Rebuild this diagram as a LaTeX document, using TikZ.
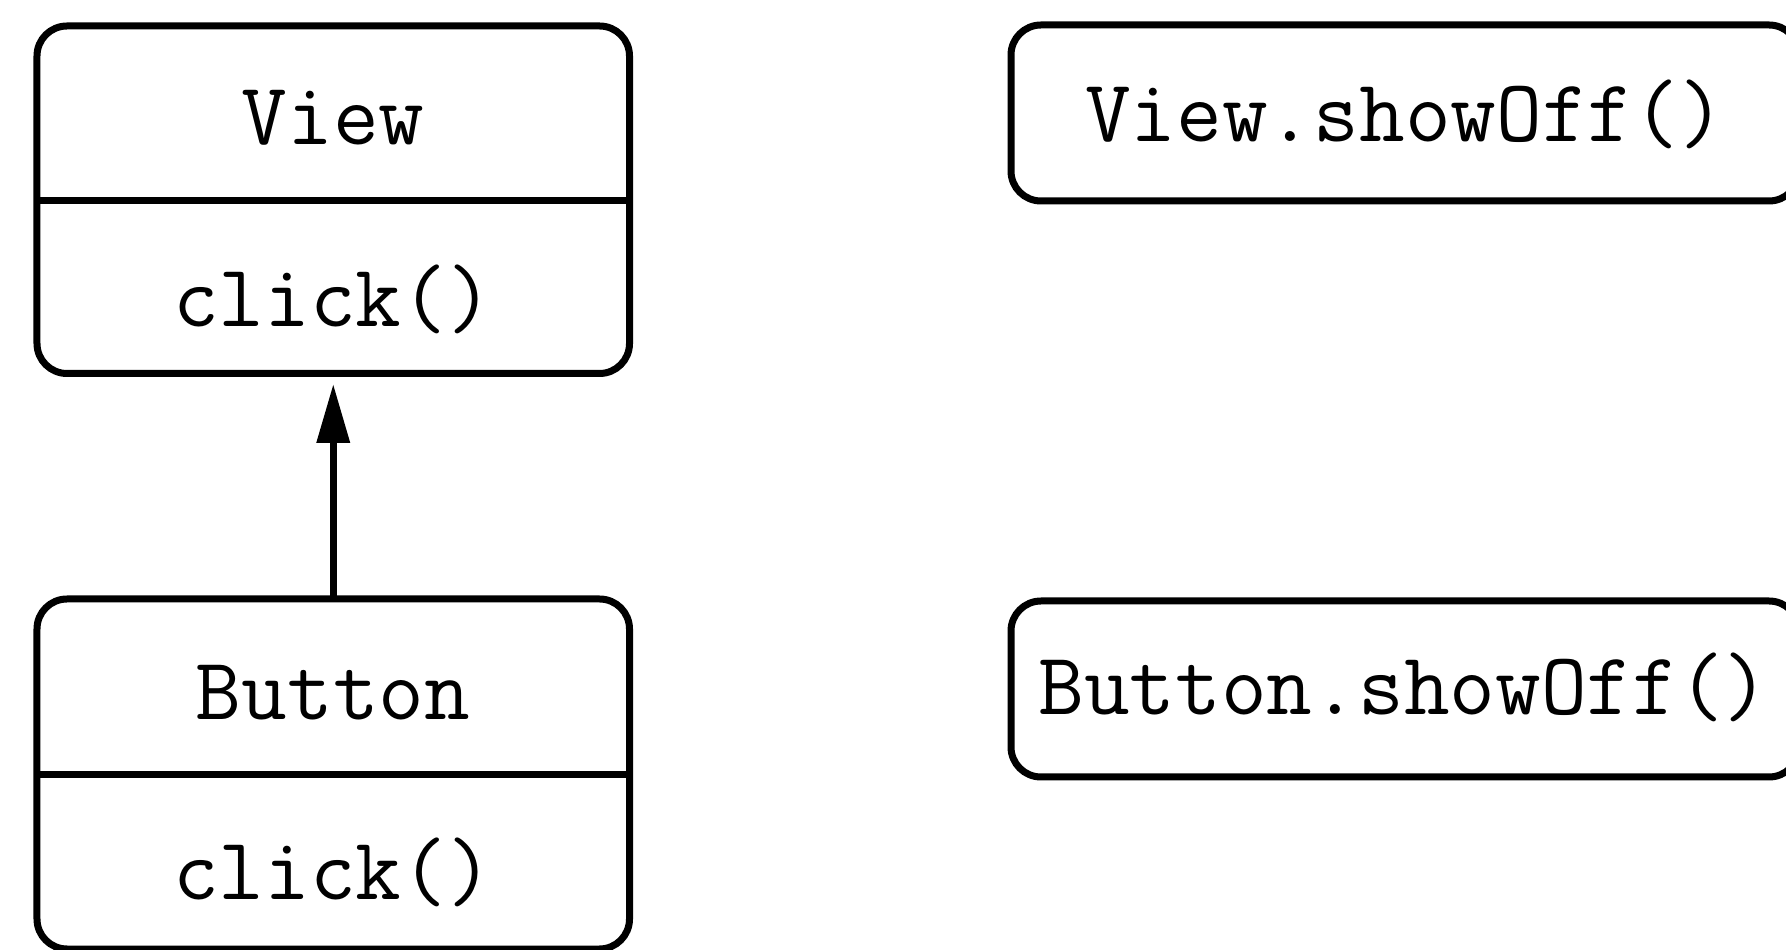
\documentclass[tikz,border=0pt]{standalone}
\usetikzlibrary{arrows.meta}
\begin{document}
\begin{tikzpicture}[x=0.4pt,y=-0.4pt,
  box/.style={draw, line width=2.8pt, rounded corners=12pt, inner sep=0pt, outer sep=0pt},
  divline/.style={line width=2.8pt},
  lbl/.style={font=\ttfamily\fontsize{35.5}{42}\selectfont, inner sep=0pt, anchor=base},
  inherit/.style={line width=2.8pt, -{Triangle[length=23.6pt,width=12.8pt]}, shorten >=4.2pt}]
\useasboundingbox (0,0) rectangle (1786,950);
\clip (0,0) rectangle (1786,950);
% class boxes
\node[box, minimum width=237pt, minimum height=139pt] (view) at (333.25,199.75) {};
\node[box, minimum width=237pt, minimum height=140pt] (button) at (333.25,774) {};
\draw[divline] (view.west |- 0,201) -- (view.east |- 0,201);
\draw[divline] (button.west |- 0,775) -- (button.east |- 0,775);
\node[lbl] (viewname) at (333,145) {View};
\node[lbl] (viewop) at (333,327) {click()};
\node[lbl] (buttonname) at (333,720) {Button};
\node[lbl] (buttonop) at (333,900) {click()};
% call boxes
\node[box, minimum width=315.2pt, minimum height=70.4pt] (viewshow) at (1405,113) {};
\node[lbl] (viewshowtxt) at (1405,142) {View.showOff()};
\node[box, minimum width=315.2pt, minimum height=70.4pt] (buttonshow) at (1405,689) {};
\node[lbl] (buttonshowtxt) at (1404,715) {Button.showOff()};
% inheritance
\draw[inherit] (button.north) -- (view.south);
\end{tikzpicture}
\end{document}
